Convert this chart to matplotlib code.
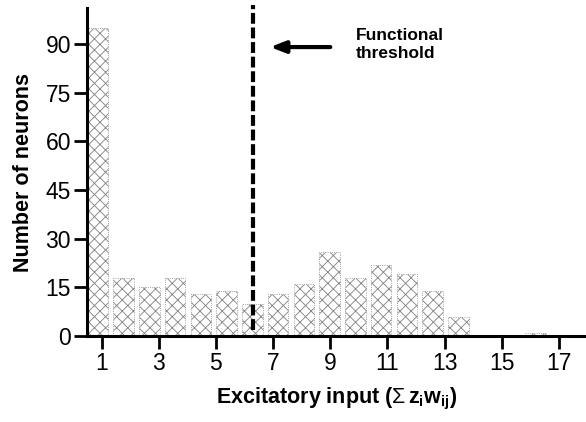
import matplotlib
matplotlib.use("Agg")
import matplotlib.pyplot as plt

plt.rcParams["font.family"] = ["Liberation Sans", "DejaVu Sans"]
plt.rcParams["mathtext.fontset"] = "custom"
plt.rcParams["mathtext.rm"] = "Liberation Sans"
plt.rcParams["mathtext.it"] = "Liberation Sans:bold"
plt.rcParams["mathtext.bf"] = "Liberation Sans:bold"
plt.rcParams["hatch.linewidth"] = 0.65
plt.rcParams["hatch.color"] = "#262626"

# bin centres (excitatory input) and neuron counts
bin_centers = [0.87, 1.77, 2.67, 3.57, 4.48, 5.38, 6.28, 7.18, 8.08,
               8.98, 9.88, 10.78, 11.68, 12.58, 13.48, 14.38, 15.28, 16.18]
counts = [95, 18, 15, 18, 13, 14, 10, 13, 16, 26, 18, 22, 19, 14, 6, 0, 0, 1]

xticks = [1, 3, 5, 7, 9, 11, 13, 15, 17]
yticks = [0, 15, 30, 45, 60, 75, 90]
threshold = 6.29

fig = plt.figure(figsize=(5.86, 4.22), dpi=100)
ax = fig.add_axes([0.1485, 0.2038, 0.8515, 0.777])

ax.bar(bin_centers, counts, width=0.72, color="white", edgecolor="#888888",
       linewidth=0.6, linestyle=":", hatch="xxx")

# functional threshold marker
ax.plot([threshold, threshold], [2, 102], color="black", linestyle=(0, (2.6, 0.9)),
        linewidth=3, clip_on=False, zorder=5)
ax.annotate("", xy=(6.8, 89), xytext=(9.1, 89),
            arrowprops=dict(arrowstyle="-|>,head_length=0.9,head_width=0.35",
                            color="black", lw=3))
ax.text(9.9, 89.8, "Functional\nthreshold", fontsize=12.5, fontweight="bold",
        ha="left", va="center", linespacing=1.3)

ax.set_xlim(0.49, 17.95)
ax.set_ylim(0, 101)
ax.set_xticks(xticks)
ax.set_yticks(yticks)
ax.tick_params(axis="both", direction="out", length=9.5, width=2, labelsize=16.5, pad=2)

for side in ["top", "right"]:
    ax.spines[side].set_visible(False)
for side in ["left", "bottom"]:
    ax.spines[side].set_linewidth(2.2)

ax.set_ylabel("Number of neurons", fontsize=15.5, fontweight="bold", labelpad=8)
ax.set_xlabel(r"Excitatory input ($\Sigma\,z_{i}w_{ij}$)", fontsize=15.5,
              fontweight="bold", labelpad=8)

fig.savefig("out.png", dpi=100)
